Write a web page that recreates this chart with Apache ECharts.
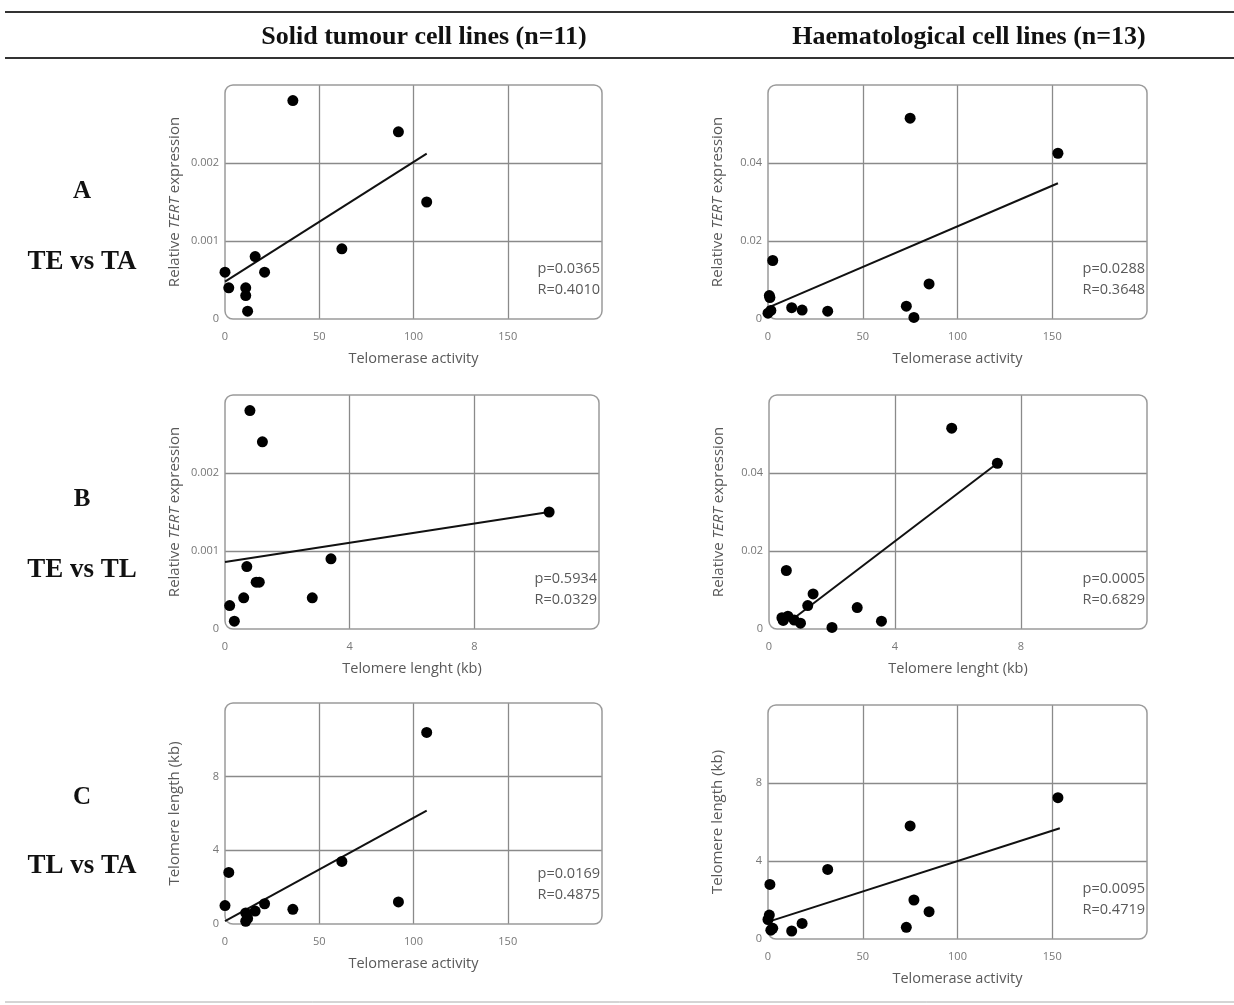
<!DOCTYPE html>
<html>
<head>
<meta charset="utf-8">
<style>html,body{margin:0;padding:0;background:#fff}#c{width:1234px;height:1005px}</style>
<script src="https://cdn.jsdelivr.net/npm/echarts@6/dist/echarts.min.js"></script>
</head>
<body>
<div id="c"></div>
<script>
// ---------- DATA ----------
// Solid tumour cell lines (n=11)
var solidTA = [36, 92, 107, 62, 16, 21, 0, 2, 11, 11, 12];
var solidTE = [0.0028, 0.0024, 0.0015, 0.0009, 0.0008, 0.0006, 0.0006, 0.0004, 0.0004, 0.0003, 0.0001];
var solidTL = [0.8, 1.2, 10.4, 3.4, 0.7, 1.1, 1.0, 2.8, 0.6, 0.15, 0.3];
// Haematological cell lines (n=13)
var haemTA = [75, 153, 2.5, 85, 0.7, 1, 31.5, 77, 12.5, 73, 18, 1.5, 0];
var haemTE = [0.0515, 0.0425, 0.015, 0.009, 0.006, 0.0055, 0.002, 0.0004, 0.0029, 0.0033, 0.0023, 0.0022, 0.0015];
var haemTL = [5.8, 7.25, 0.55, 1.4, 1.23, 2.8, 3.57, 2.0, 0.41, 0.6, 0.8, 0.45, 1.0];
// Trend line end points
var trendSolidTEvsTA = [[0, 0.00048], [107, 0.00212]];
var trendSolidTEvsTL = [[0, 0.00086], [10.4, 0.0015]];
var trendSolidTLvsTA = [[0, 0.15], [107, 6.15]];
var trendHaemTEvsTA = [[0, 0.0029], [153, 0.0348]];
var trendHaemTEvsTL = [[0.78, 0.0027], [7.25, 0.0425]];
var trendHaemTLvsTA = [[0, 0.88], [154, 5.68]];
// Statistics text
var statsText = [
  ['p=0.0365', 'R=0.4010'], ['p=0.0288', 'R=0.3648'],
  ['p=0.5934', 'R=0.0329'], ['p=0.0005', 'R=0.6829'],
  ['p=0.0169', 'R=0.4875'], ['p=0.0095', 'R=0.4719']
];
var columnTitles = ['Solid tumour cell lines (n=11)', 'Haematological cell lines (n=13)'];
var rowLetters = ['A', 'B', 'C'];
var rowNames = ['TE vs TA', 'TE vs TL', 'TL vs TA'];
var nameTA = 'Telomerase activity';
var nameTLx = 'Telomere lenght (kb)';
var nameTE = 'Relative {i|TERT} expression';
var nameTLy = 'Telomere length (kb)';

function zip(a, b) { return a.map(function (v, i) { return [v, b[i]]; }); }

// ---------- LAYOUT ----------
var grids = [
  {left: 225, top: 85, width: 377, height: 234},
  {left: 768, top: 85, width: 379, height: 234},
  {left: 225, top: 395, width: 374, height: 234},
  {left: 769, top: 395, width: 378, height: 234},
  {left: 225, top: 703, width: 377, height: 221},
  {left: 768, top: 705, width: 379, height: 234}
];
var panels = [
  {x: 'TA', y: 'TEs', pts: zip(solidTA, solidTE), trend: trendSolidTEvsTA},
  {x: 'TA', y: 'TEh', pts: zip(haemTA, haemTE), trend: trendHaemTEvsTA},
  {x: 'TL', y: 'TEs', pts: zip(solidTL, solidTE), trend: trendSolidTEvsTL},
  {x: 'TL', y: 'TEh', pts: zip(haemTL, haemTE), trend: trendHaemTEvsTL},
  {x: 'TA', y: 'TL', pts: zip(solidTA, solidTL), trend: trendSolidTLvsTA},
  {x: 'TA', y: 'TL', pts: zip(haemTA, haemTL), trend: trendHaemTLvsTA}
];
var axisDefs = {
  TA: {min: 0, max: 200, interval: 50, name: nameTA},
  TL: {min: 0, max: 12, interval: 4, name: nameTLx},
  TEs: {min: 0, max: 0.003, interval: 0.001, name: nameTE},
  TEh: {min: 0, max: 0.06, interval: 0.02, name: nameTE},
  TLy: {min: 0, max: 12, interval: 4, name: nameTLy}
};
var FONT = 'Open Sans';
var TXT = '#595959';
var GRIDC = '#8a8a8a';

var xAxes = [], yAxes = [], series = [], graphics = [];
panels.forEach(function (p, i) {
  var xd = axisDefs[p.x];
  var yd = axisDefs[p.y === 'TL' ? 'TLy' : p.y];
  xAxes.push({
    type: 'value', gridIndex: i, min: xd.min, max: xd.max, interval: xd.interval,
    name: xd.name, nameLocation: 'middle', nameGap: 32,
    nameTextStyle: {fontFamily: FONT, fontSize: 14.5, color: TXT},
    axisLine: {show: false}, axisTick: {show: false},
    axisLabel: {showMaxLabel: false, fontFamily: FONT, fontSize: 11, color: '#777', margin: 12},
    splitLine: {show: true, showMinLine: false, showMaxLine: false, lineStyle: {color: GRIDC, width: 1.3}}
  });
  yAxes.push({
    type: 'value', gridIndex: i, min: yd.min, max: yd.max, interval: yd.interval,
    name: yd.name, nameLocation: 'middle', nameGap: 43,
    nameTextStyle: {fontFamily: FONT, fontSize: 15, color: TXT,
      rich: {i: {fontFamily: FONT, fontSize: 15, color: TXT, fontStyle: 'italic'}}},
    axisLine: {show: false}, axisTick: {show: false},
    axisLabel: {showMaxLabel: false, fontFamily: FONT, fontSize: 11, color: '#777', margin: 6},
    splitLine: {show: true, showMinLine: false, showMaxLine: false, lineStyle: {color: GRIDC, width: 1.3}}
  });
  series.push({
    type: 'scatter', xAxisIndex: i, yAxisIndex: i, data: p.pts,
    symbolSize: 11, itemStyle: {color: '#000', opacity: 1}, z: 5
  });
  series.push({
    type: 'line', xAxisIndex: i, yAxisIndex: i, data: p.trend,
    symbol: 'none', lineStyle: {color: '#111', width: 2}, z: 4
  });
  var g = grids[i];
  graphics.push({
    type: 'rect', shape: {x: g.left, y: g.top, width: g.width, height: g.height, r: 8},
    style: {fill: 'none', stroke: '#9a9a9a', lineWidth: 1.5}, z: 3
  });
  graphics.push({
    type: 'text', x: g.left + g.width - 2, y: g.top + g.height - 50,
    style: {text: statsText[i][0], font: '14.5px "' + FONT + '"', fill: TXT, align: 'right', verticalAlign: 'middle'}, z: 6
  });
  graphics.push({
    type: 'text', x: g.left + g.width - 2, y: g.top + g.height - 29,
    style: {text: statsText[i][1], font: '14.5px "' + FONT + '"', fill: TXT, align: 'right', verticalAlign: 'middle'}, z: 6
  });
});

// header rules and titles
graphics.push({type: 'line', shape: {x1: 5, y1: 12, x2: 1234, y2: 12}, style: {stroke: '#333', lineWidth: 2}});
graphics.push({type: 'line', shape: {x1: 5, y1: 58, x2: 1234, y2: 58}, style: {stroke: '#333', lineWidth: 2}});
graphics.push({type: 'line', shape: {x1: 5, y1: 1002, x2: 1234, y2: 1002}, style: {stroke: '#aaa', lineWidth: 1}});
var titleX = [424, 969];
columnTitles.forEach(function (t, k) {
  graphics.push({type: 'text', x: titleX[k], y: 37,
    style: {text: t, font: 'bold 26px "Liberation Serif"', fill: '#111', align: 'center', verticalAlign: 'middle'}});
});
var letterY = [192, 500, 798], nameY = [262, 570, 866];
rowLetters.forEach(function (l, k) {
  graphics.push({type: 'text', x: 82, y: letterY[k],
    style: {text: l, font: 'bold 25px "Liberation Serif"', fill: '#111', align: 'center', verticalAlign: 'middle'}});
  graphics.push({type: 'text', x: 82, y: nameY[k],
    style: {text: rowNames[k], font: 'bold 27px "Liberation Serif"', fill: '#111', align: 'center', verticalAlign: 'middle'}});
});

var chart = echarts.init(document.getElementById('c'), null, {renderer: 'canvas'});
chart.setOption({
  animation: false,
  backgroundColor: '#fff',
  grid: grids.map(function (g) { return {left: g.left, top: g.top, width: g.width, height: g.height, show: false}; }),
  xAxis: xAxes,
  yAxis: yAxes,
  series: series,
  graphic: graphics
});
</script>
</body>
</html>
